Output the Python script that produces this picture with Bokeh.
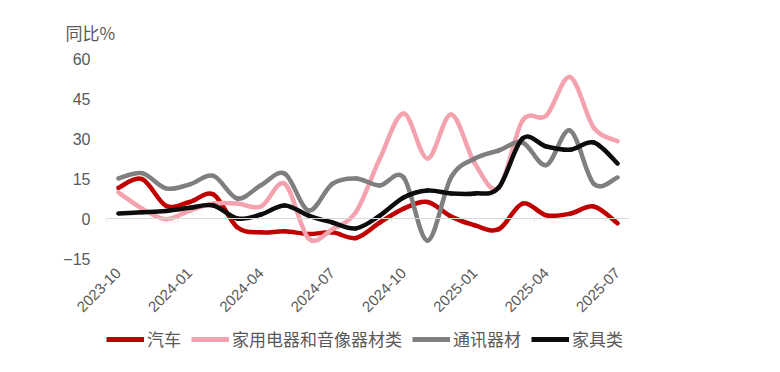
import math
from bokeh.plotting import figure
from bokeh.layouts import column
from bokeh.models import (ColumnDataSource, FixedTicker, Span, Legend, LegendItem)
from bokeh.embed import file_html
from bokeh.resources import INLINE

months = ["2023-10", "2023-11", "2023-12", "2024-01", "2024-02", "2024-03", "2024-04",
          "2024-05", "2024-06", "2024-07", "2024-08", "2024-09", "2024-10", "2024-11",
          "2024-12", "2025-01", "2025-02", "2025-03", "2025-04", "2025-05", "2025-06",
          "2025-07"]
auto = [11.5, 14.8, 4.8, 6.2, 9.0, -3.3, -5.2, -4.8, -5.8, -5.2, -7.3, -1.5, 3.7, 6.2,
        0.7, -2.6, -4.0, 5.6, 1.2, 1.8, 4.5, -1.8]
appliance = [9.8, 3.7, -0.3, 3.0, 5.6, 5.6, 4.5, 13.0, -7.5, -4.0, 2.5, 22.5, 39.4, 22.5,
             39.0, 20.5, 11.5, 36.7, 38.6, 53.0, 34.0, 29.0]
telecom = [15.0, 17.0, 11.3, 12.8, 16.0, 7.5, 12.5, 16.8, 3.0, 13.0, 15.0, 12.4, 15.4,
           -8.3, 15.5, 22.5, 25.5, 28.5, 20.0, 33.0, 13.0, 15.4]
furniture = [1.9, 2.3, 2.8, 4.0, 4.9, 0.0, 1.5, 4.9, 1.1, -1.5, -3.7, 1.1, 7.9, 10.5,
             9.4, 9.4, 11.6, 30.0, 27.0, 25.8, 28.5, 20.6]
series_names = ["汽车", "家用电器和音像器材类", "通讯器材", "家具类"]
series_values = [auto, appliance, telecom, furniture]
series_colors = ["#C00000", "#F4A3AE", "#7F7F7F", "#0D0D0D"]
y_ticks = [-15, 0, 15, 30, 45, 60]
x_tick_step = 3

FONT = "Noto Sans CJK SC"
NUMFONT = "Liberation Sans"
GRAY = "#595959"

n = len(months)
xs = list(range(n))

p = figure(width=772, height=324, output_backend="svg", toolbar_location=None,
           x_range=(-0.5, n - 0.5), y_range=(-15, 60),
           min_border_left=106, min_border_right=143, min_border_top=58,
           min_border_bottom=66)
p.outline_line_color = None
p.grid.visible = False
p.background_fill_color = "white"
p.border_fill_color = "white"

p.title.text = "同比%"
p.title.align = "left"
p.title.offset = -41
p.title.standoff = 28
p.title.text_font = FONT
p.title.text_font_size = "17px"
p.title.text_font_style = "normal"
p.title.text_color = GRAY

# x axis (labels at bottom)
xa = p.xaxis[0]
xa.ticker = FixedTicker(ticks=xs[::x_tick_step])
xa.major_label_overrides = {i: months[i] for i in xs[::x_tick_step]}
xa.major_label_orientation = math.pi / 4
xa.axis_line_color = None
xa.major_tick_line_color = None
xa.minor_tick_line_color = None
xa.major_tick_out = 0
xa.major_tick_in = 0
xa.major_label_standoff = 12
xa.major_label_text_font = NUMFONT
xa.major_label_text_font_size = "15px"
xa.major_label_text_color = GRAY

ya = p.yaxis[0]
ya.ticker = FixedTicker(ticks=y_ticks)
ya.axis_line_color = None
ya.major_tick_line_color = None
ya.minor_tick_line_color = None
ya.major_tick_out = 0
ya.major_tick_in = 0
ya.major_label_standoff = 16
ya.major_label_text_font = NUMFONT
ya.major_label_text_font_size = "16px"
ya.major_label_text_color = GRAY

# zero line with category boundary ticks
p.add_layout(Span(location=0, dimension="width", line_color="#D9D9D9", line_width=1))
bounds = [i - 0.5 for i in xs[::x_tick_step]]
p.segment(x0=bounds, y0=[0] * len(bounds), x1=bounds, y1=[-1.2] * len(bounds),
          line_color="#D9D9D9", line_width=1)

# legend strip below the chart
p2 = figure(width=772, height=40, output_backend="svg", toolbar_location=None,
            x_range=(0, 1), y_range=(0, 1), x_axis_type=None, y_axis_type=None,
            min_border=0)
p2.outline_line_color = None
p2.background_fill_color = "white"
p2.border_fill_color = "white"

items = []
for name, vals, col in zip(series_names, series_values, series_colors):
    x0, y0, x1, y1, cx0, cy0, cx1, cy1 = [], [], [], [], [], [], [], []
    for i in range(n - 1):
        pm = max(i - 1, 0)
        pp = min(i + 2, n - 1)
        x0.append(xs[i]); y0.append(vals[i])
        x1.append(xs[i + 1]); y1.append(vals[i + 1])
        cx0.append(xs[i] + (xs[i + 1] - xs[pm]) / 6.0)
        cy0.append(vals[i] + (vals[i + 1] - vals[pm]) / 6.0)
        cx1.append(xs[i + 1] - (xs[pp] - xs[i]) / 6.0)
        cy1.append(vals[i + 1] - (vals[pp] - vals[i]) / 6.0)
    src = ColumnDataSource(dict(x0=x0, y0=y0, x1=x1, y1=y1, cx0=cx0, cy0=cy0, cx1=cx1, cy1=cy1))
    p.bezier(x0="x0", y0="y0", x1="x1", y1="y1", cx0="cx0", cy0="cy0", cx1="cx1", cy1="cy1",
             source=src, line_color=col, line_width=4.5, line_cap="round")
    r = p2.line(x=[float("nan")], y=[float("nan")], line_color=col, line_width=5)
    items.append(LegendItem(label=name, renderers=[r]))

legend = Legend(items=items, orientation="horizontal", location=(0, 13),
                glyph_width=38, glyph_height=18, label_standoff=3, spacing=10,
                label_text_font=FONT, label_text_font_size="17px",
                label_text_color=GRAY, border_line_color=None,
                background_fill_alpha=0, padding=0, margin=0)
p2.add_layout(legend, "center")

layout = column(p, p2, spacing=0)
open("out.html", "w").write(file_html(layout, INLINE))
